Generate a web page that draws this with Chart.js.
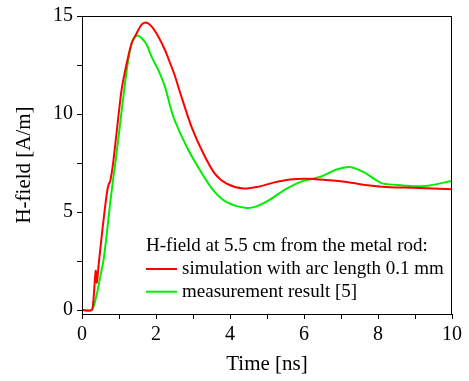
<!DOCTYPE html>
<html>
<head>
<meta charset="utf-8">
<script src="https://cdn.jsdelivr.net/npm/chart.js@4"></script>
<style>
  html,body{margin:0;padding:0;background:#fff;}
  #wrap{width:469px;height:381px;}
</style>
</head>
<body>
<div id="wrap"><canvas id="c" width="469" height="381"></canvas></div>
<script>
// ---------- DATA ----------
const simTime  = [0, 0.26, 0.30, 0.37, 0.40, 0.46, 0.56, 0.67, 0.72, 0.76, 0.80, 0.85, 0.95, 1.07, 1.21, 1.34, 1.48, 1.61, 1.73, 1.88, 2.06, 2.24, 2.33, 2.51, 2.65, 2.96, 3.28, 3.59, 3.91, 4.36, 4.81, 5.17, 5.62, 6.07, 6.61, 7.15, 7.78, 8.32, 8.95, 10];
const simField = [0, 0, 0.3, 2.0, 1.4, 2.5, 4.23, 5.94, 6.4, 6.55, 6.96, 7.64, 9.3, 11.23, 12.6, 13.6, 14.13, 14.56, 14.67, 14.47, 13.96, 13.28, 12.85, 11.95, 11.1, 9.35, 7.99, 6.96, 6.45, 6.2, 6.31, 6.5, 6.66, 6.7, 6.63, 6.53, 6.35, 6.27, 6.24, 6.16];
const measTime  = [0, 0.26, 0.40, 0.49, 0.58, 0.67, 0.76, 0.85, 0.91, 1.03, 1.14, 1.25, 1.36, 1.48, 1.61, 1.75, 1.88, 2.06, 2.24, 2.47, 2.83, 3.19, 3.55, 3.91, 4.41, 4.72, 5.08, 5.53, 5.98, 6.43, 6.88, 7.24, 7.60, 7.96, 8.14, 8.68, 9.04, 9.40, 10];
const measField = [0, 0, 0.82, 1.67, 2.52, 3.89, 5.43, 6.79, 7.64, 9.5, 11.23, 12.76, 13.7, 14.0, 13.88, 13.53, 12.93, 12.25, 11.4, 9.86, 8.33, 7.13, 6.11, 5.51, 5.22, 5.29, 5.63, 6.2, 6.59, 6.79, 7.17, 7.3, 7.05, 6.62, 6.45, 6.36, 6.31, 6.36, 6.59];
const seriesNames = ['simulation with arc length 0.1 mm', 'measurement result [5]'];
const legendTitle = 'H-field at 5.5 cm from the metal rod:';
const xTicks = [0,1,2,3,4,5,6,7,8,9,10];
const yTicks = [0,2.5,5,7.5,10,12.5,15];

const FONT = '"Liberation Serif", "Times New Roman", serif';
const pts = (xs, ys) => xs.map((x,i)=>({x, y: ys[i]}));

// ---------- PLUGINS ----------
const frame = {
  id:'frame',
  afterDatasetsDraw(chart){
    const {ctx, chartArea:a} = chart;
    ctx.save();
    ctx.strokeStyle='#000'; ctx.lineWidth=1;
    ctx.strokeRect(Math.round(a.left)+0.5, Math.round(a.top)+0.5, Math.round(a.right-a.left)-1, Math.round(a.bottom-a.top));
    ctx.restore();
  }
};

const boxLegend = {
  id:'boxLegend',
  afterDraw(chart){
    const {ctx} = chart;
    const x0 = 146, y0 = 251;
    ctx.save();
    ctx.font = '19px ' + FONT;
    ctx.fillStyle = '#000';
    ctx.textBaseline = 'alphabetic';
    ctx.fillText(legendTitle, x0, y0);
    chart.data.datasets.forEach((ds,i)=>{
      const yl = y0 + 18 + i*22.7;
      ctx.strokeStyle = ds.borderColor; ctx.lineWidth = 2;
      ctx.beginPath(); ctx.moveTo(x0, yl); ctx.lineTo(x0+31, yl); ctx.stroke();
      ctx.fillStyle = '#000';
      ctx.fillText(ds.label, x0+36, yl+5);
    });
    ctx.restore();
  }
};

// ---------- CHART ----------
new Chart(document.getElementById('c').getContext('2d'), {
  type:'line',
  data:{
    datasets:[
      {label:seriesNames[0], data:pts(simTime, simField), borderColor:'#ff0000', borderWidth:2, pointRadius:0, tension:0.3, fill:false},
      {label:seriesNames[1], data:pts(measTime, measField), borderColor:'#00ee00', borderWidth:2, pointRadius:0, tension:0.3, fill:false}
    ]
  },
  options:{
    responsive:false, animation:false,
    layout:{padding:{top:16, right:17, left:0, bottom:0}},
    plugins:{legend:{display:false}, tooltip:{enabled:false}},
    scales:{
      x:{
        type:'linear', min:0, max:10,
        afterFit(s){ s.height = 67; },
        afterBuildTicks(s){ s.ticks = xTicks.map(v=>({value:v})); },
        grid:{drawOnChartArea:false, tickLength:5, tickColor:'#000'},
        border:{display:true, color:'#000', width:1},
        ticks:{color:'#000', font:{family:FONT, size:20}, padding:4, maxRotation:0,
          callback:v => v%2===0 ? String(v) : ''},
        title:{display:true, text:'Time [ns]', color:'#000', font:{family:FONT, size:21}, padding:{top:9}}
      },
      y:{
        type:'linear', min:-0.2, max:15,
        afterFit(s){ s.width = 82; },
        afterBuildTicks(s){ s.ticks = yTicks.map(v=>({value:v})); },
        grid:{drawOnChartArea:false, tickLength:5, tickColor:'#000'},
        border:{display:true, color:'#000', width:1},
        ticks:{color:'#000', font:{family:FONT, size:20}, padding:4,
          callback:v => v%5===0 ? String(v) : ''},
        title:{display:true, text:'H-field [A/m]', color:'#000', font:{family:FONT, size:21}, padding:{top:12, bottom:0}}
      }
    }
  },
  plugins:[frame, boxLegend]
});
</script>
</body>
</html>
